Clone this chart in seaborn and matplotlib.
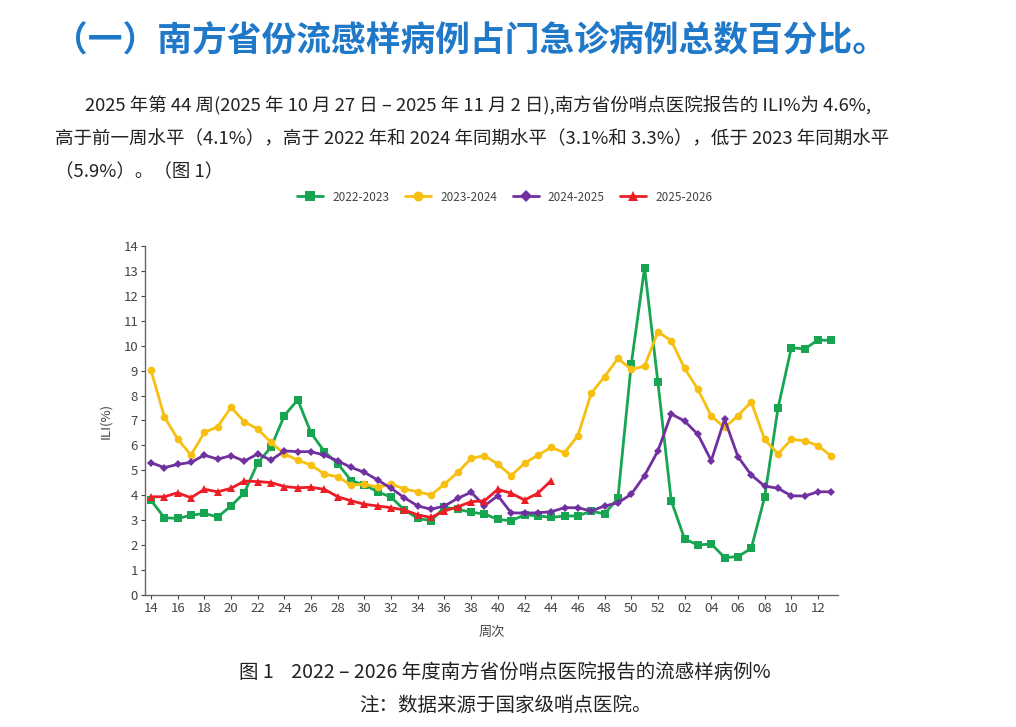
import matplotlib
matplotlib.use("Agg")
import matplotlib.pyplot as plt
import seaborn as sns
import pandas as pd

# 周次：第14周到第52周，再到次年第13周
weeks = [str(w) for w in range(14, 53)] + ["%02d" % w for w in range(1, 14)]

ili_2022_2023 = [3.8, 3.1, 3.07, 3.2, 3.27, 3.13, 3.57, 4.1, 5.3, 5.93, 7.2, 7.83, 6.5, 5.75, 5.27,
                 4.59, 4.41, 4.14, 3.92, 3.41, 3.07, 2.98, 3.52, 3.44, 3.32, 3.25, 3.03, 2.98, 3.21,
                 3.18, 3.11, 3.17, 3.17, 3.37, 3.25, 3.88, 9.25, 13.13, 8.53, 3.78, 2.25, 2.0, 2.05,
                 1.5, 1.54, 1.87, 3.92, 7.49, 9.92, 9.87, 10.23, 10.21]
ili_2023_2024 = [9.02, 7.15, 6.26, 5.61, 6.52, 6.75, 7.53, 6.95, 6.66, 6.12, 5.66, 5.41, 5.21, 4.85, 4.74,
                 4.41, 4.45, 4.32, 4.45, 4.25, 4.14, 4.01, 4.45, 4.92, 5.48, 5.59, 5.25, 4.79, 5.28,
                 5.61, 5.92, 5.71, 6.39, 8.09, 8.76, 9.49, 9.05, 9.18, 10.56, 10.2, 9.09, 8.25, 7.18,
                 6.72, 7.19, 7.75, 6.24, 5.66, 6.24, 6.19, 5.99, 5.57]
ili_2024_2025 = [5.31, 5.11, 5.24, 5.32, 5.61, 5.45, 5.59, 5.37, 5.66, 5.41, 5.78, 5.75, 5.75, 5.61, 5.38,
                 5.12, 4.92, 4.61, 4.28, 3.9, 3.57, 3.44, 3.57, 3.88, 4.12, 3.58, 3.98, 3.3, 3.28,
                 3.3, 3.34, 3.5, 3.5, 3.37, 3.57, 3.7, 4.04, 4.79, 5.78, 7.26, 6.98, 6.44, 5.39,
                 7.05, 5.55, 4.81, 4.37, 4.28, 3.98, 3.97, 4.14, 4.14]
ili_2025_2026 = [3.94, 3.94, 4.1, 3.9, 4.24, 4.14, 4.28, 4.57, 4.55, 4.51, 4.35, 4.3, 4.32, 4.24, 3.94,
                 3.78, 3.64, 3.57, 3.5, 3.41, 3.21, 3.11, 3.37, 3.54, 3.74, 3.78, 4.24, 4.08, 3.81,
                 4.08, 4.59]

seasons = ["2022-2023", "2023-2024", "2024-2025", "2025-2026"]
colors = ["#17a552", "#f7bf10", "#7030a0", "#ee1c25"]
markers = ["s", "o", "D", "^"]
values = [ili_2022_2023, ili_2023_2024, ili_2024_2025, ili_2025_2026]

sns.set_style("white")
plt.rcParams["font.family"] = ["Noto Sans CJK SC", "DejaVu Sans"]

fig = plt.figure(figsize=(10.16, 7.27), dpi=100)
ax = fig.add_axes([0.1427, 0.1816, 0.6821, 0.48])

for s, c, m, v in zip(seasons, colors, markers, values):
    df = pd.DataFrame({"x": range(len(v)), "y": v})
    sns.lineplot(data=df, x="x", y="y", ax=ax, color=c, marker=m, markersize=5.5 if m != "D" else 4.5,
                 markeredgewidth=0, linewidth=2, label=s)

ax.set_xlim(-0.45, 51.5)
ax.set_ylim(0, 14)
ax.set_yticks(range(0, 15))
ax.set_xticks(range(0, len(weeks), 2))
ax.set_xticklabels(weeks[::2])
ax.tick_params(axis="both", labelsize=9.5, colors="#444444", length=3, direction="out",
               bottom=True, left=True, pad=2)
for sp in ["top", "right"]:
    ax.spines[sp].set_visible(False)
for sp in ["left", "bottom"]:
    ax.spines[sp].set_color("#666666")
    ax.spines[sp].set_linewidth(1)
ax.set_xlabel("周次", fontsize=9.5, color="#444444", labelpad=8)
ax.set_ylabel("ILI(%)", fontsize=9.5, color="#444444", labelpad=8)

ax.legend_.remove()
handles, labels = ax.get_legend_handles_labels()
fig.legend(handles, labels, loc="center", bbox_to_anchor=(0.497, 0.729), ncol=4, frameon=False,
           fontsize=8.5, handlelength=2.2, columnspacing=1.3, labelcolor="#444444", markerscale=1.3)

# 标题与说明文字
fig.text(0.052, 0.945, "（一）南方省份流感样病例占门急诊病例总数百分比。", fontsize=25,
         fontweight="bold", color="#1f78c8", va="center")
fig.text(0.084, 0.855, "2025 年第 44 周(2025 年 10 月 27 日 – 2025 年 11 月 2 日),南方省份哨点医院报告的 ILI%为 4.6%,",
         fontsize=13.3, color="#222222", va="center")
fig.text(0.054, 0.808, "高于前一周水平（4.1%），高于 2022 年和 2024 年同期水平（3.1%和 3.3%），低于 2023 年同期水平",
         fontsize=13.3, color="#222222", va="center")
fig.text(0.054, 0.763, "（5.9%）。（图 1）", fontsize=13.3, color="#222222", va="center")

fig.text(0.497, 0.075, "图 1    2022 – 2026 年度南方省份哨点医院报告的流感样病例%", fontsize=14,
         color="#222222", ha="center", va="center")
fig.text(0.497, 0.030, "注：数据来源于国家级哨点医院。", fontsize=14, color="#222222",
         ha="center", va="center")

fig.savefig("out.png", dpi=100)
